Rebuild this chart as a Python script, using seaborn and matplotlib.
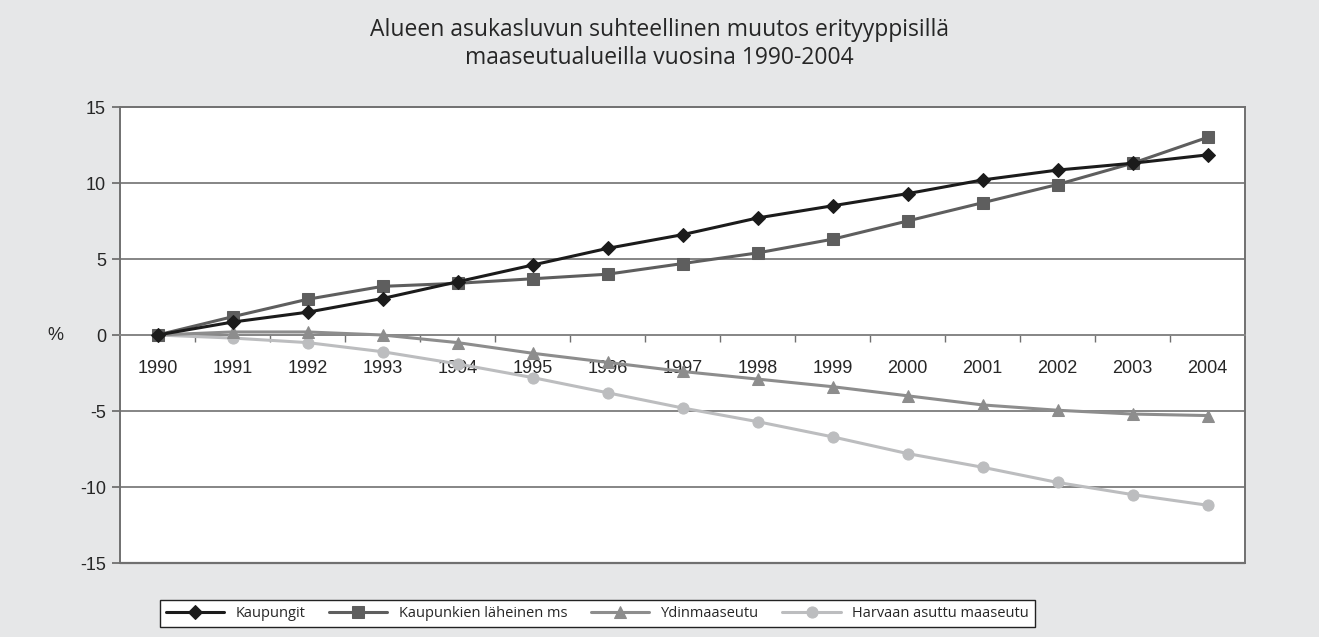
import pandas as pd
import seaborn as sns
import matplotlib.pyplot as plt

# vuodet ja sarjat (% muutos vuodesta 1990)
years = [str(y) for y in range(1990, 2005)]
kaupungit = [0, 0.85, 1.5, 2.4, 3.5, 4.6, 5.7, 6.6, 7.7, 8.5, 9.3, 10.2, 10.85, 11.3, 11.85]
laheinen = [0, 1.2, 2.35, 3.2, 3.4, 3.7, 4.0, 4.7, 5.4, 6.3, 7.5, 8.7, 9.9, 11.3, 13.0]
ydin = [0, 0.2, 0.2, 0.0, -0.5, -1.2, -1.8, -2.4, -2.9, -3.4, -4.0, -4.6, -4.95, -5.2, -5.3]
harvaan = [0, -0.2, -0.5, -1.1, -1.9, -2.8, -3.8, -4.8, -5.7, -6.7, -7.8, -8.7, -9.7, -10.5, -11.2]

names = ['Kaupungit', 'Kaupunkien läheinen ms', 'Ydinmaaseutu', 'Harvaan asuttu maaseutu']
series = [kaupungit, laheinen, ydin, harvaan]
colors = ['#1b1b1b', '#5e5e5e', '#8d8d8d', '#bcbdbf']
markers = ['D', 's', '^', 'o']
msizes = [7, 8, 8, 8]

rows = []
for n, vals in zip(names, series):
  for i, v in enumerate(vals):
    rows.append({'idx': i, 'vuosi': years[i], 'muutos': v, 'alue': n})
df = pd.DataFrame(rows)

sns.set_style('white')
plt.rcParams['font.family'] = ['Liberation Sans', 'DejaVu Sans']
plt.rcParams['axes.unicode_minus'] = False

bg = '#e6e7e8'
fig = plt.figure(figsize=(13.19, 6.37), dpi=100, facecolor=bg)
ax = fig.add_axes([120/1319, 74/637, 1125/1319, 456/637])
ax.set_facecolor('white')

for y in [-10, -5, 5, 10]:
  ax.axhline(y, color='#858585', lw=1.4, zorder=0)
# kehyksen alareuna, koska x-akseli siirretään nollaan
ax.axhline(-15, color='#707070', lw=1.6, clip_on=False, zorder=2)

# piirretään takimmainen ensin, jotta Kaupungit jää päälle
for n, c, m, s in reversed(list(zip(names, colors, markers, msizes))):
  sns.lineplot(data=df[df['alue'] == n], x='idx', y='muutos', color=c, marker=m,
               markersize=s, markeredgecolor=c, lw=2.2, ax=ax, label=n, zorder=3)

ax.set_xlim(-0.5, 14.5)
ax.set_ylim(-15, 15)
ax.set_yticks(range(-15, 16, 5))
ax.tick_params(axis='y', direction='out', length=6, width=1.2, color='#666666',
               labelsize=13, pad=4, left=True)
ax.set_xlabel('')
ax.set_ylabel('%', rotation=0, fontsize=13, labelpad=18, va='center')
for sp in ax.spines.values():
  sp.set_color('#707070')
  sp.set_linewidth(1.4)

# vuosiakseli nollan kohdalla
ax.spines['bottom'].set_position(('data', 0))
ax.spines['bottom'].set_color('#858585')
ax.set_xticks(range(len(years)))
ax.set_xticklabels(years)
ax.set_xticks([i - 0.5 for i in range(1, len(years))], minor=True)
ax.tick_params(axis='x', which='major', length=0, labelsize=13, pad=18, bottom=True)
ax.tick_params(axis='x', which='minor', length=5, width=1, color='#707070',
               direction='out', bottom=True)

fig.text(0.5, 0.972, 'Alueen asukasluvun suhteellinen muutos erityyppisillä\nmaaseutualueilla vuosina 1990-2004',
         ha='center', va='top', fontsize=16.5, family=['Open Sans', 'DejaVu Sans'], linespacing=1.25)

h, l = ax.get_legend_handles_labels()
ax.get_legend().remove()
leg = fig.legend(h[::-1], l[::-1], loc='lower left', ncol=4, mode='expand',
                 bbox_to_anchor=(160/1319, 10/637, 875/1319, 33/637),
                 frameon=True, fancybox=False, handlelength=4, borderaxespad=0,
                 prop={'family': ['Open Sans', 'DejaVu Sans'], 'size': 10.5})
leg.get_frame().set_edgecolor('#222222')
leg.get_frame().set_facecolor('white')
leg.get_frame().set_alpha(1)
leg.get_frame().set_linewidth(1)

fig.savefig('out.png', dpi=100, facecolor=bg)
